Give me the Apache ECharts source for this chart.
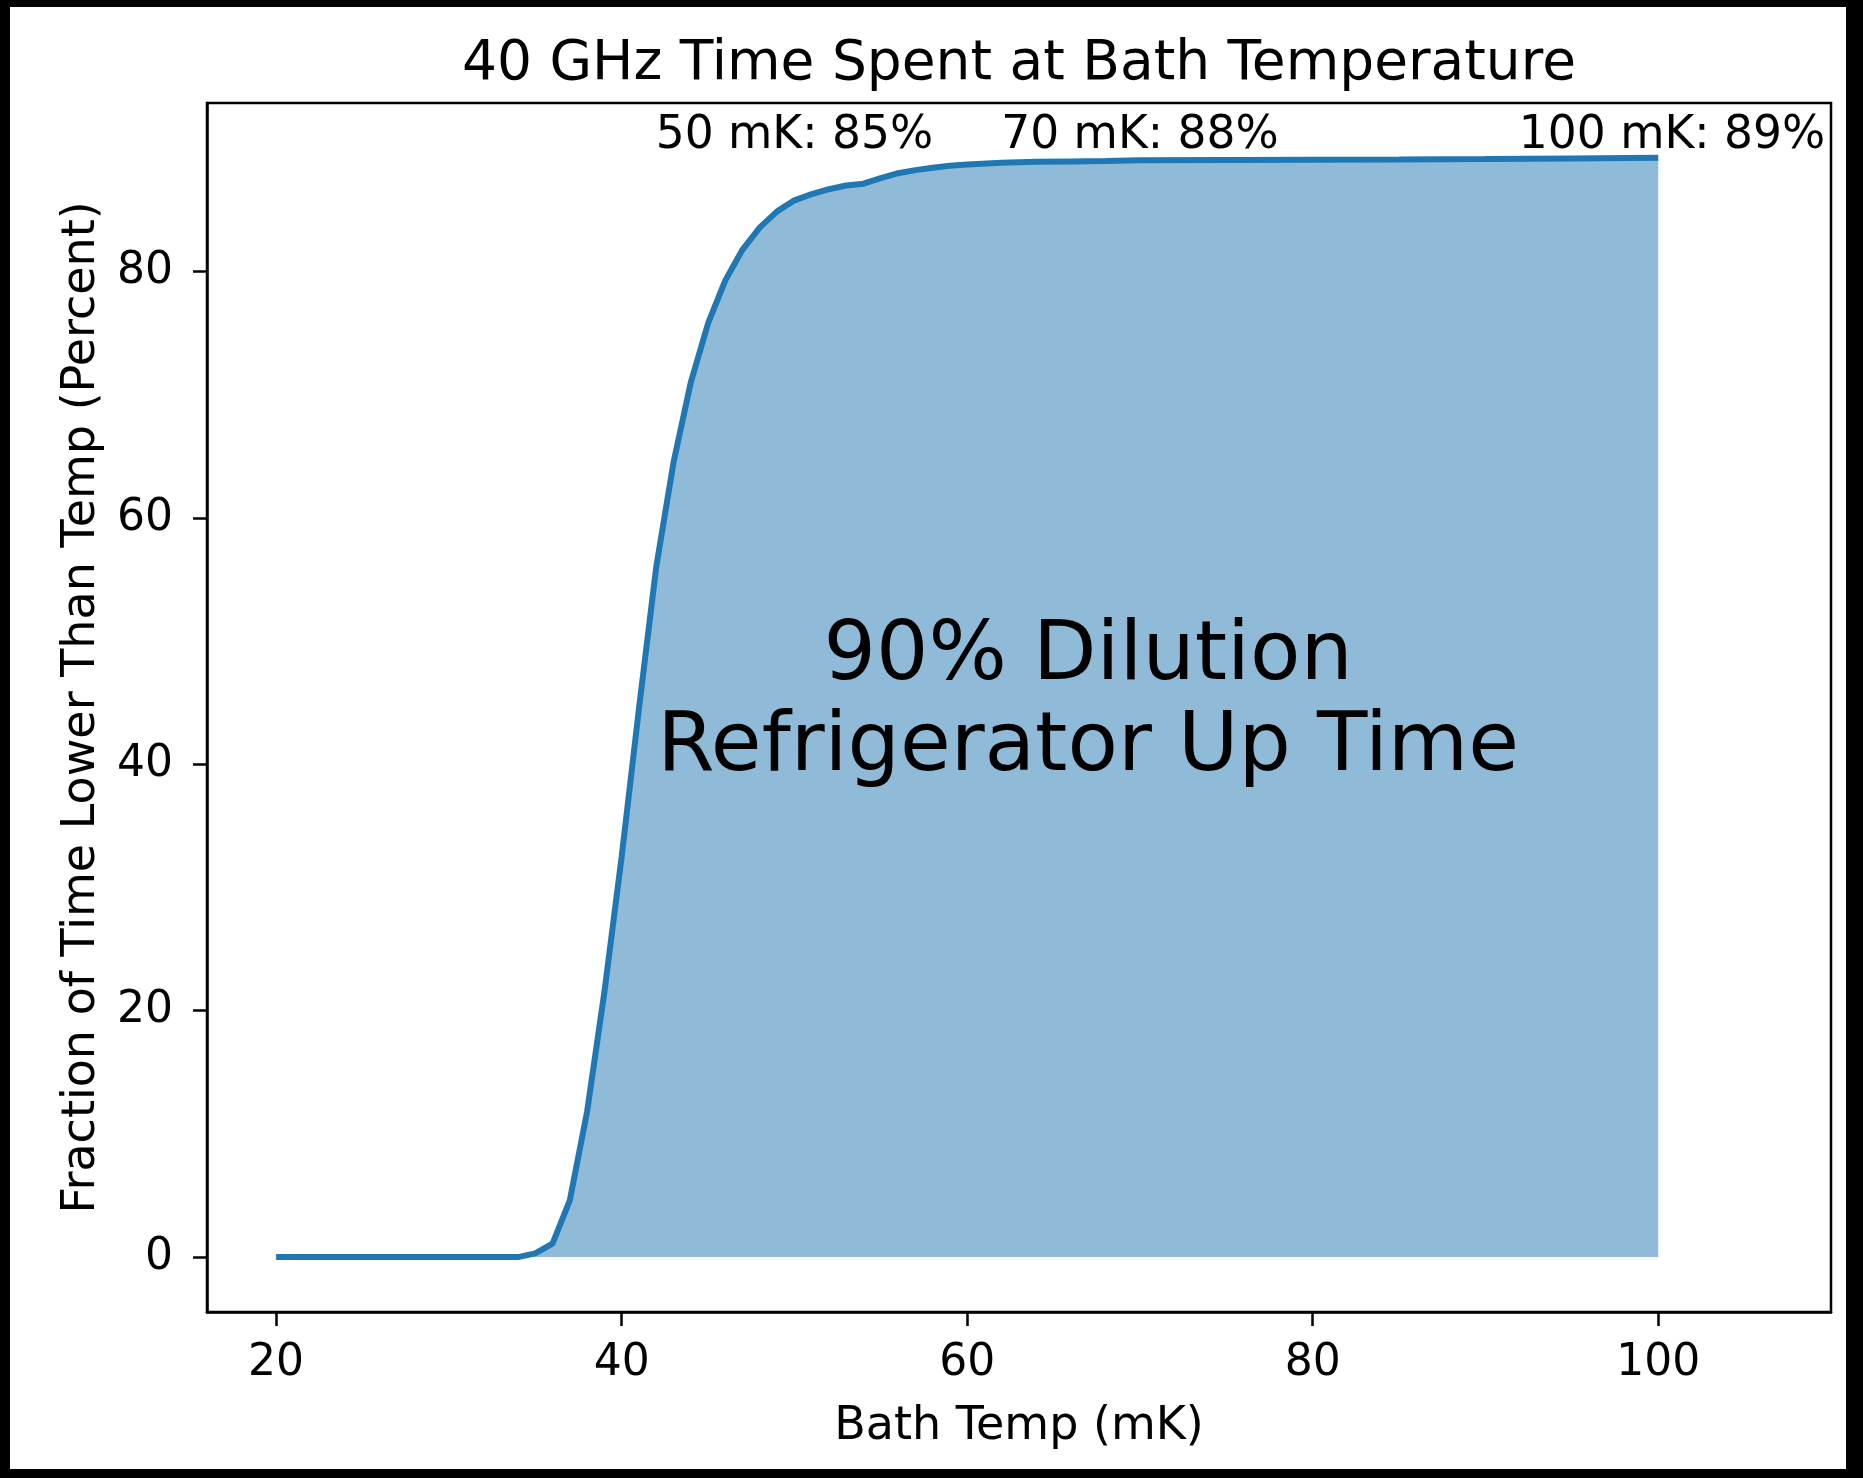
<!DOCTYPE html>
<html>
<head>
<meta charset="utf-8">
<script src="https://cdn.jsdelivr.net/npm/echarts@6/dist/echarts.min.js"></script>
<style>
html,body{margin:0;padding:0;background:#fff;}
#chart{width:1863px;height:1478px;}
</style>
</head>
<body>
<div id="chart"></div>
<script>
// ---- data ----
const temps = [20,22,24,26,28,30,32,34,35,36,37,38,39,40,41,42,43,44,45,46,47,48,49,50,51,52,53,54,55,56,57,58,59,60,62,64,66,68,70,75,80,85,90,95,100];
const pct   = [0,0,0,0,0,0,0,0,0.3,1.1,4.6,11.8,21.5,32.5,44.5,56.0,64.5,71.0,75.8,79.3,81.8,83.6,84.9,85.8,86.3,86.7,87.0,87.15,87.6,88.0,88.25,88.45,88.6,88.7,88.85,88.92,88.96,89.0,89.05,89.08,89.1,89.12,89.15,89.2,89.25];
const xTicks = [20,40,60,80,100];
const yTicks = [0,20,40,60,80];
const annTemps = [50,70,100.8];
const annLabels = ['50 mK: 85%','70 mK: 88%','100 mK: 89%'];
const annLevel = 91;
const bigText = '90% Dilution\nRefrigerator Up Time';
const bigAt = [67,45];

const FONT = 'DejaVu Sans';
const chart = echarts.init(document.getElementById('chart'), null, {renderer:'canvas'});

const labelBase = {
  show: true, position: 'inside', formatter: p => p.name,
  fontFamily: FONT, color: '#000', opacity: 1, textBorderWidth: 0,
  align: 'center', verticalAlign: 'middle'
};

const option = {
  backgroundColor: '#fff',
  animation: false,
  title: {
    text: '40 GHz Time Spent at Bath Temperature',
    left: 1014,
    textAlign: 'center',
    top: 32,
    textStyle: {fontFamily: FONT, fontSize: 55, fontWeight: 'normal', color: '#000'}
  },
  graphic: [
    {type:'rect', shape:{x:0,y:0,width:10,height:1478}, style:{fill:'#000'}, silent:true},
    {type:'rect', shape:{x:1846,y:0,width:17,height:1478}, style:{fill:'#000'}, silent:true},
    {type:'rect', shape:{x:0,y:0,width:1863,height:7}, style:{fill:'#000'}, silent:true},
    {type:'rect', shape:{x:0,y:1469,width:1863,height:9}, style:{fill:'#000'}, silent:true}
  ],
  grid: {
    left: 207, top: 103, width: 1624, height: 1209,
    show: true, borderColor: '#000', borderWidth: 2.5,
    backgroundColor: 'transparent',
    containLabel: false,
    outerBoundsMode: 'none'
  },
  xAxis: {
    type: 'value', min: 16, max: 110,
    name: 'Bath Temp (mK)', nameLocation: 'middle', nameGap: 92,
    nameTextStyle: {fontFamily: FONT, fontSize: 46, color: '#000'},
    axisLine: {show: true, onZero: false, lineStyle: {color: '#000', width: 2.5}},
    axisTick: {show: true, inside: false, length: 14, lineStyle: {color: '#000', width: 2.5}, customValues: xTicks},
    axisLabel: {show: true, margin: 30, fontFamily: FONT, fontSize: 44, color: '#000', customValues: xTicks},
    splitLine: {show: false}
  },
  yAxis: {
    type: 'value', min: -4.46, max: 93.7,
    name: 'Fraction of Time Lower Than Temp (Percent)', nameLocation: 'middle', nameGap: 102,
    nameTextStyle: {fontFamily: FONT, fontSize: 46, color: '#000'},
    axisLine: {show: true, onZero: false, lineStyle: {color: '#000', width: 2.5}},
    axisTick: {show: true, inside: false, length: 14, lineStyle: {color: '#000', width: 2.5}, customValues: yTicks},
    axisLabel: {show: true, margin: 34, fontFamily: FONT, fontSize: 44, color: '#000', customValues: yTicks},
    splitLine: {show: false}
  },
  series: [
    {
      type: 'line',
      data: temps.map((t, i) => [t, pct[i]]),
      showSymbol: false,
      symbol: 'none',
      lineStyle: {color: '#1f77b4', width: 6},
      areaStyle: {color: 'rgba(31,119,180,0.5)', origin: 0, opacity: 1},
      z: 2
    },
    {
      type: 'scatter',
      data: annTemps.map((t, i) => ({value: [t, annLevel], name: annLabels[i]})),
      symbolSize: 1,
      itemStyle: {color: 'transparent'},
      label: Object.assign({}, labelBase, {fontSize: 45.5}),
      z: 5
    },
    {
      type: 'scatter',
      data: [{value: bigAt, name: bigText}],
      symbolSize: 1,
      itemStyle: {color: 'transparent'},
      label: Object.assign({}, labelBase, {fontSize: 82.5, lineHeight: 91}),
      z: 5
    }
  ]
};
chart.setOption(option);
</script>
</body>
</html>
